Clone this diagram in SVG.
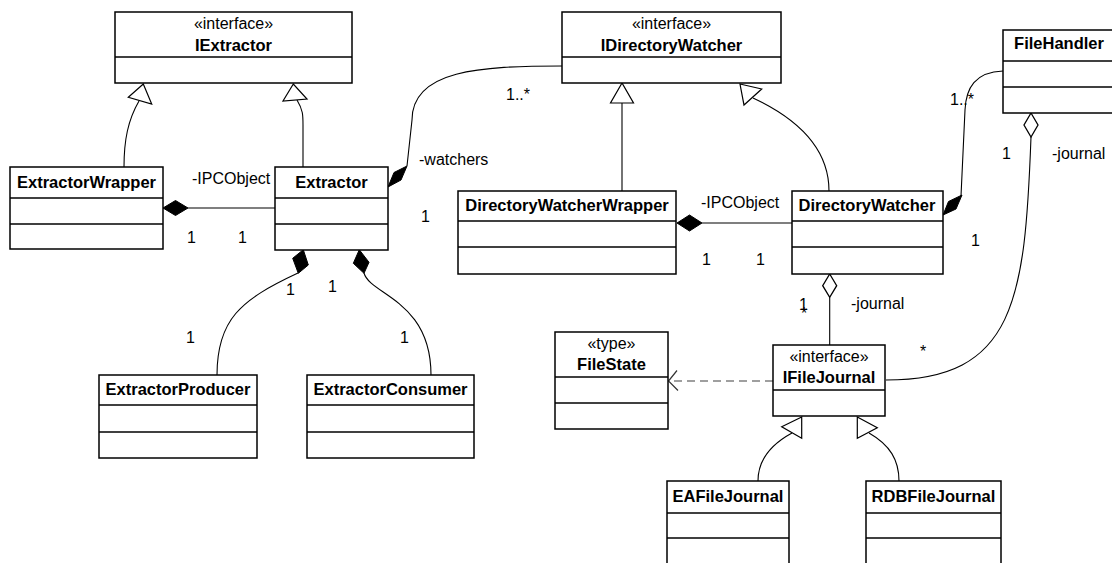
<svg xmlns="http://www.w3.org/2000/svg" width="1112" height="563" viewBox="0 0 1112 563">
<style>
.box{fill:#fff;stroke:#000;stroke-width:1.5}
.div{stroke:#000;stroke-width:1.5}
.name{font-family:"Liberation Sans",Arial,sans-serif;font-size:16.5px;font-weight:bold;text-anchor:middle;fill:#000}
.st{font-family:"Liberation Sans",Arial,sans-serif;font-size:16px;text-anchor:middle;fill:#000}
.lbl{font-family:"Liberation Sans",Arial,sans-serif;font-size:16px;fill:#000}
.ln{fill:none;stroke:#000;stroke-width:1.1}
.tri{fill:#fff;stroke:#000;stroke-width:1.2}
.fd{fill:#000;stroke:#000;stroke-width:1}
.hd{fill:#fff;stroke:#000;stroke-width:1.3}
.dash{fill:none;stroke:#808080;stroke-width:1.3;stroke-dasharray:8,5}
</style>
<rect width="1112" height="563" fill="#fff"/>
<g id="connectors">
  <path class="ln" d="M139 101 C128 120,124 140,124 167"/>
  <polygon class="tri" points="143.3,84 128.3,97.3 151.7,104"/>
  <path class="ln" d="M297 100 C303 110,303 115,303 125 L303 167"/>
  <polygon class="tri" points="293.3,84 283,101 307,99"/>
  <path class="ln" d="M188 208 L275 208"/>
  <polygon class="fd" points="163,208 175.5,200.5 188,208 175.5,215.5"/>
  <path class="ln" d="M298 273 C240 300,217 320,217 375"/>
  <polygon class="fd" points="303.3,249.7 308.3,265 298.3,273.3 292.7,258.3"/>
  <path class="ln" d="M364 273 C370 295,431 300,431 375"/>
  <polygon class="fd" points="359.3,249.7 369,262.3 364,273.3 353.3,263.3"/>
  <path class="ln" d="M562 66 C480 66,412 70,412 120 L407 166"/>
  <polygon class="fd" points="388,187 401,180 407,166 394,172.5"/>
  <path class="ln" d="M622 103 L622 191"/>
  <polygon class="tri" points="622,83 610.5,103 633.5,103"/>
  <path class="ln" d="M753 98 C800 120,829 150,829 191"/>
  <polygon class="tri" points="740,84 761.7,89 744,105"/>
  <path class="ln" d="M702 223 L792 223"/>
  <polygon class="fd" points="677,223 689.5,215 702,223 689.5,231"/>
  <path class="ln" d="M1003 71 C975 72,966 88,965 110 L961 196"/>
  <polygon class="fd" points="943,215 956,209 962,195 948.5,201.5"/>
  <path class="ln" d="M829.7 297.3 L829.7 345"/>
  <polygon class="hd" points="829.7,274 836.7,285.7 829.7,297.3 822.7,285.7"/>
  <path class="ln" d="M1031 137 C1025 300,1015 380,886 380"/>
  <polygon class="hd" points="1031,113 1038,125 1031,137 1024,125"/>
  <path class="dash" d="M773 381 L669 381"/>
  <path fill="none" stroke="#333" stroke-width="1.2" d="M677 370.5 L668.5 381 L678 390.5"/>
  <path class="ln" d="M792 433 C770 445,758 460,758 481"/>
  <polygon class="tri" points="801.7,417 781.7,426.7 801.7,438.3"/>
  <path class="ln" d="M869 433 C890 445,899 460,899 481"/>
  <polygon class="tri" points="857.3,417 877.3,427.7 857.3,438.3"/>
  <text class="lbl" x="192" y="184">-IPCObject</text>
  <text class="lbl" x="187" y="243">1</text>
  <text class="lbl" x="238" y="243">1</text>
  <text class="lbl" x="419" y="165">-watchers</text>
  <text class="lbl" x="421" y="222">1</text>
  <text class="lbl" x="506" y="100">1..*</text>
  <text class="lbl" x="286" y="295">1</text>
  <text class="lbl" x="328" y="292">1</text>
  <text class="lbl" x="186" y="343">1</text>
  <text class="lbl" x="400" y="343">1</text>
  <text class="lbl" x="701" y="208">-IPCObject</text>
  <text class="lbl" x="702" y="265">1</text>
  <text class="lbl" x="756" y="265">1</text>
  <text class="lbl" x="950" y="105">1..*</text>
  <text class="lbl" x="971" y="246">1</text>
  <text class="lbl" x="1002" y="159">1</text>
  <text class="lbl" x="1052" y="159">-journal</text>
  <text class="lbl" x="799" y="310">1</text>
  <text class="lbl" x="801" y="319">*</text>
  <text class="lbl" x="851" y="309">-journal</text>
  <text class="lbl" x="920" y="357">*</text>
</g>
<g id="IExtractor">
  <rect class="box" x="115" y="12" width="237" height="71"/>
  <line class="div" x1="115" y1="57" x2="352" y2="57"/>
  <text class="st" x="233.5" y="29">«interface»</text>
  <text class="name" x="233.5" y="51">IExtractor</text>
</g>
<g id="ExtractorWrapper">
  <rect class="box" x="10" y="167" width="153" height="82"/>
  <line class="div" x1="10" y1="198" x2="163" y2="198"/>
  <line class="div" x1="10" y1="224" x2="163" y2="224"/>
  <text class="name" x="86.5" y="188">ExtractorWrapper</text>
</g>
<g id="Extractor">
  <rect class="box" x="275" y="167" width="113" height="83"/>
  <line class="div" x1="275" y1="198" x2="388" y2="198"/>
  <line class="div" x1="275" y1="224" x2="388" y2="224"/>
  <text class="name" x="331.5" y="188">Extractor</text>
</g>
<g id="ExtractorProducer">
  <rect class="box" x="99" y="375" width="158" height="83"/>
  <line class="div" x1="99" y1="405" x2="257" y2="405"/>
  <line class="div" x1="99" y1="432" x2="257" y2="432"/>
  <text class="name" x="178" y="395">ExtractorProducer</text>
</g>
<g id="ExtractorConsumer">
  <rect class="box" x="307" y="375" width="167" height="83"/>
  <line class="div" x1="307" y1="405" x2="474" y2="405"/>
  <line class="div" x1="307" y1="432" x2="474" y2="432"/>
  <text class="name" x="390.5" y="395">ExtractorConsumer</text>
</g>
<g id="IDirectoryWatcher">
  <rect class="box" x="562" y="12" width="219" height="71"/>
  <line class="div" x1="562" y1="57" x2="781" y2="57"/>
  <text class="st" x="671.5" y="29">«interface»</text>
  <text class="name" x="671.5" y="51">IDirectoryWatcher</text>
</g>
<g id="DirectoryWatcherWrapper">
  <rect class="box" x="458" y="191" width="218" height="83"/>
  <line class="div" x1="458" y1="221" x2="676" y2="221"/>
  <line class="div" x1="458" y1="247" x2="676" y2="247"/>
  <text class="name" x="567" y="211">DirectoryWatcherWrapper</text>
</g>
<g id="DirectoryWatcher">
  <rect class="box" x="792" y="191" width="151" height="83"/>
  <line class="div" x1="792" y1="221" x2="943" y2="221"/>
  <line class="div" x1="792" y1="247" x2="943" y2="247"/>
  <text class="name" x="867" y="211">DirectoryWatcher</text>
</g>
<g id="FileHandler">
  <rect class="box" x="1003" y="30" width="112" height="83"/>
  <line class="div" x1="1003" y1="61" x2="1115" y2="61"/>
  <line class="div" x1="1003" y1="87" x2="1115" y2="87"/>
  <text class="name" x="1059" y="49">FileHandler</text>
</g>
<g id="FileState">
  <rect class="box" x="555" y="332" width="113" height="97"/>
  <line class="div" x1="555" y1="377" x2="668" y2="377"/>
  <line class="div" x1="555" y1="403" x2="668" y2="403"/>
  <text class="st" x="611.5" y="349">«type»</text>
  <text class="name" x="611.5" y="370">FileState</text>
</g>
<g id="IFileJournal">
  <rect class="box" x="773" y="345" width="112" height="71"/>
  <line class="div" x1="773" y1="390" x2="885" y2="390"/>
  <text class="st" x="829" y="362">«interface»</text>
  <text class="name" x="829" y="383">IFileJournal</text>
</g>
<g id="EAFileJournal">
  <rect class="box" x="667" y="481" width="122" height="90"/>
  <line class="div" x1="667" y1="513" x2="789" y2="513"/>
  <line class="div" x1="667" y1="538" x2="789" y2="538"/>
  <text class="name" x="728" y="502">EAFileJournal</text>
</g>
<g id="RDBFileJournal">
  <rect class="box" x="866" y="481" width="135" height="90"/>
  <line class="div" x1="866" y1="513" x2="1001" y2="513"/>
  <line class="div" x1="866" y1="538" x2="1001" y2="538"/>
  <text class="name" x="933.5" y="502">RDBFileJournal</text>
</g>
</svg>
